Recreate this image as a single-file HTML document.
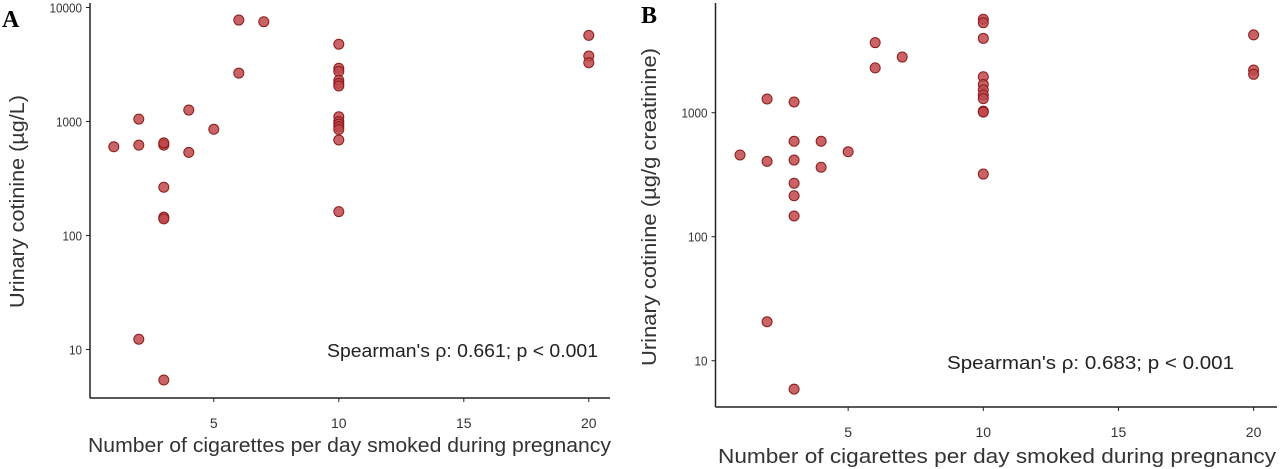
<!DOCTYPE html>
<html><head><meta charset="utf-8"><style>
html,body{margin:0;padding:0;background:#fff;}
svg{display:block;font-family:"Liberation Sans",Arial,sans-serif;}
</style></head><body>
<svg id="chart" width="1280" height="469" viewBox="0 0 1280 469">
<text x="2" y="27" font-family="Liberation Serif,serif" font-weight="bold" font-size="24" fill="#000">A</text>
<text x="641" y="23" font-family="Liberation Serif,serif" font-weight="bold" font-size="24" fill="#000">B</text>
</svg>
<script>
const xTicks=[5,10,15,20];
const yTicks=[10,100,1000,10000];
const yTickLabels=["10","100","1000","10000"];
const aX=[1,2,2,2,3,3,3,3,3,3,3,4,4,5,6,6,7,10,10,10,10,10,10,10,10,10,10,10,10,10,20,20,20];
const aY=[600,1050,620,12.3,640,620,265,145,140,5.4,650,1260,536,855,7760,2660,7500,4760,2930,2750,2300,2160,2050,1100,1000,950,900,850,689,162,5700,3750,3280];
const bX=[1,2,2,2,3,3,3,3,3,3,3,4,4,5,6,6,7,10,10,10,10,10,10,10,10,10,10,10,20,20,20];
const bY=[456,1290,405,20.6,1220,588,415,270,214,147,5.9,588,363,484,3670,2300,2810,5670,5320,3980,1950,1690,1530,1390,1300,1030,1010,320,4240,2210,2040];
const NS="http://www.w3.org/2000/svg";
const svg=document.getElementById('chart');
function mk(tag,attrs,parent){const e=document.createElementNS(NS,tag);for(const k in attrs)e.setAttribute(k,attrs[k]);(parent||svg).appendChild(e);return e;}
function panel(p){
  const sx=v=>p.x0+v*p.xu;
  const sy=v=>p.y10-(Math.log10(v)-1)*p.dec;
  const g=mk('g',{});
  
  
  const ax=mk('line',{x1:p.axL,y1:p.axB,x2:p.axR,y2:p.axB,stroke:'#222','stroke-width':1.5},g);
  
  
  const ay=mk('line',{x1:p.axL,y1:p.axT,x2:p.axL,y2:p.axB,stroke:'#222','stroke-width':1.5},g);
  
  
  xTicks.forEach(t=>{
    mk('line',{x1:sx(t),x2:sx(t),y1:p.axB,y2:p.axB+4,stroke:'#222'},g);
    const tx=mk('text',{x:sx(t),y:p.axB+30,'text-anchor':'middle','font-size':14,fill:'#333'},g);
    tx.textContent=t;
    
    
  });
  yTicks.forEach((t,i)=>{
    if(p.skipTop&&t===10000)return;
    mk('line',{x1:p.axL-4,x2:p.axL,y1:sy(t),y2:sy(t),stroke:'#222'},g);
    const ty=mk('text',{x:p.axL-8,y:sy(t)+5,'text-anchor':'end','font-size':13,fill:'#333',transform:`translate(${p.axL-8},0) scale(0.9,1) translate(${-(p.axL-8)},0)`},g);
    ty.textContent=yTickLabels[i];
    
    
  });
  p.xs.forEach((x,i)=>{
    const c=mk('circle',{cx:sx(x),cy:sy(p.ys[i]),r:5,fill:'#c0484b','fill-opacity':0.85,stroke:'#8a1c1c','stroke-width':1},g);
    
    
  });
  const xt=mk('text',{x:p.xtX,y:p.xtY,'font-size':20,fill:'#333',textLength:p.xtL,lengthAdjust:'spacingAndGlyphs'},g);
  xt.textContent='Number of cigarettes per day smoked during pregnancy';
  
  
  const yt=mk('text',{x:0,y:0,'font-size':20,fill:'#333',textLength:p.ytL,lengthAdjust:'spacingAndGlyphs',transform:`translate(${p.ytX},${p.ytY}) rotate(-90)`},g);
  yt.textContent=p.ytitle;
  
  
  const st=mk('text',{x:p.stX,y:p.stY,'font-size':18,fill:'#222',textLength:p.stL,lengthAdjust:'spacingAndGlyphs'},g);
  st.textContent=p.stat;
  
  
}
panel({name:'panel-a',x0:88.8,xu:25,y10:349.5,dec:114,axL:90,axR:610,axT:3,axB:398,xs:aX,ys:aY,
  xtX:88,xtY:452,xtL:523,ytX:24,ytY:308,ytL:213,ytitle:'Urinary cotinine (µg/L)',stX:327,stY:357,stL:271,stat:"Spearman's ρ: 0.661; p < 0.001"});
panel({name:'panel-b',x0:713,xu:27.03,y10:360.7,dec:124,axL:715.5,axR:1277,axT:3,axB:407,xs:bX,ys:bY,skipTop:true,
  xtX:718,xtY:463,xtL:558,ytX:656,ytY:366,ytL:318,ytitle:'Urinary cotinine (µg/g creatinine)',stX:947,stY:369,stL:287,stat:"Spearman's ρ: 0.683; p < 0.001"});
</script>
</body></html>
